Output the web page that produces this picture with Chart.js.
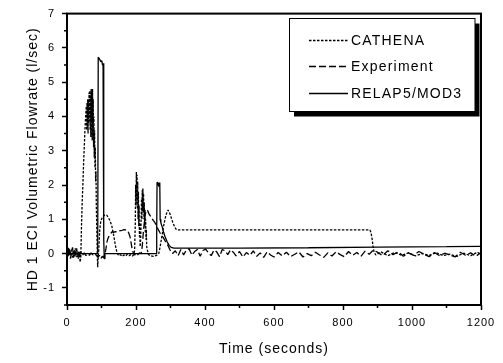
<!DOCTYPE html>
<html><head><meta charset="utf-8">
<script src="https://cdn.jsdelivr.net/npm/chart.js@4.4.1/dist/chart.umd.min.js"></script>
<style>html,body{margin:0;padding:0;background:#fff;overflow:hidden}canvas{display:block}</style>
</head><body><canvas id="c" width="503" height="363"></canvas>
<script>
// ---------- data ----------
const seriesNames = ['CATHENA', 'Experiment', 'RELAP5/MOD3'];

const catTime = [0,3,6,9,12,15,18,21,24,27,30,33,36,38,40,42,44,46,48,50,
  52,54,56,57,58,59,60,61,62,63,64,65,66,67,68,69,70,71,72,73,
  74,75,76,77,78,79,80,81,82,83,84,85,86,87,88,89,90,92,95,98,
  102,106,110,115,120,125,130,135,140,145,150,155,160,165,170,175,180,185,190,194,
  196,198,199,200,201,202,203,204,205,206,207,208,209,210,211,212,213,214,215,216,
  217,218,219,220,221,222,223,224,225,226,227,228,229,230,231,233,236,240,250,260,
  266,270,275,280,285,290,293,297,302,307,312,317,320,400,500,600,700,800,878,881,
  884,886,888,890,895,910,930,950,970,990,1010,1030,1050,1070,1090,1110,1130,1150,1170,1190,
  1200];
const catFlow = [0.1,-0.1,0.15,-0.05,0.12,-0.12,0.08,-0.08,0.15,-0.1,0.05,-0.15,0.05,-0.25,-0.1,0.8,1.5,2.0,2.6,3.1,
  3.6,4.0,4.3,3.6,4.4,3.7,4.5,3.5,4.5,3.8,4.7,4.0,4.75,3.6,4.6,3.4,4.8,3.9,4.7,3.3,
  4.8,3.8,4.5,3.1,4.0,2.8,3.6,2.5,3.1,2.1,2.4,1.4,0.9,0.4,-0.1,-0.4,-0.2,0.1,0.7,0.95,
  1.05,1.1,1.13,1.12,1.05,0.95,0.8,0.55,0.25,0.02,-0.06,-0.03,-0.08,-0.04,-0.07,-0.02,-0.06,-0.03,-0.07,-0.02,
  0.1,0.9,2.0,1.4,2.38,1.6,2.3,1.3,2.1,1.0,1.8,0.8,1.4,0.5,0.9,0.2,0.3,0.6,1.1,1.6,
  1.0,1.85,1.3,1.9,1.2,1.75,1.0,1.5,0.8,1.3,0.6,1.0,0.4,0.7,0.2,0.1,-0.02,-0.06,-0.08,-0.05,
  0.0,0.2,0.5,0.8,1.05,1.22,1.27,1.2,1.05,0.9,0.78,0.7,0.69,0.69,0.69,0.69,0.69,0.69,0.69,0.62,
  0.45,0.3,0.15,0.05,-0.04,0.05,-0.06,0.03,-0.05,0.02,-0.07,0.0,-0.05,0.03,-0.06,-0.02,-0.08,0.01,-0.06,0.04,
  -0.03];

const expTime = [0,2,4,6,8,10,13,16,19,22,25,28,31,34,37,40,45,50,55,60,
  65,70,75,80,85,90,94,98,102,106,110,113,116,119,122,125,128,131,135,140,
  145,150,155,160,165,170,175,179,183,186,189,192,196,200,205,210,215,218,222,226,
  230,234,238,245,250,255,260,265,270,275,280,285,290,294,298,302,
  306,314,322,330,338,346,354,362,370,378,386,394,402,410,418,426,434,442,450,458,
  466,474,482,490,500,510,520,530,540,550,560,570,580,590,600,612,624,636,648,660,
  672,684,696,708,720,732,744,756,768,780,792,804,816,828,840,852,864,876,888,900,
  915,930,945,960,975,990,1005,1020,1035,1050,1065,1080,1095,1110,1125,1140,1155,1170,1185,1200];
const expFlow = [0.15,-0.1,0.2,-0.05,0.1,-0.15,0.05,0.18,-0.12,0.1,-0.05,0.15,-0.1,0.08,-0.05,0.05,-0.05,0.02,-0.06,0.0,
  -0.05,0.02,-0.04,0.0,-0.05,-0.1,-0.05,-0.15,-0.08,-0.12,0.0,0.15,0.35,0.45,0.52,0.56,0.6,0.64,0.62,0.64,
  0.63,0.66,0.67,0.68,0.7,0.69,0.68,0.6,0.48,0.3,0.12,0.02,-0.05,0.03,-0.04,0.02,0.0,0.2,0.7,1.1,
  1.27,1.25,1.15,1.05,0.97,0.9,0.8,0.69,0.6,0.52,0.45,0.36,0.27,0.21,0.12,0.05,
  0.0,0.08,-0.06,0.12,-0.04,0.1,0.14,-0.05,0.06,0.12,-0.08,0.09,0.13,0.02,-0.06,0.1,0.05,-0.09,0.12,0.08,
  -0.03,0.11,0.04,-0.07,0.06,-0.1,0.03,-0.05,0.08,-0.08,0.02,-0.11,0.05,-0.04,-0.1,0.03,-0.07,0.04,-0.09,-0.02,
  0.05,-0.1,0.0,-0.06,0.04,-0.04,-0.11,0.02,-0.07,0.05,-0.03,-0.09,0.06,-0.05,0.03,-0.08,0.07,-0.02,0.1,0.04,
  -0.06,0.08,-0.03,0.05,-0.08,0.02,-0.05,0.06,-0.02,-0.09,0.03,-0.06,0.01,-0.04,-0.1,0.04,-0.05,0.02,-0.08,0.03];

const relTime = [0,89,90.5,94,98,101,103,104.5,106,107,108,110,258,260,261,264,266,267.5,269,270,
  272,276,280,284,290,296,302,310,500,700,900,1100,1200];
const relFlow = [0,0,5.73,5.68,5.6,5.62,5.5,5.55,5.5,0.4,-0.15,0,0,0.6,2.08,2.05,1.95,2.07,2.0,1.0,
  0.9,0.78,0.62,0.5,0.35,0.24,0.18,0.16,0.16,0.17,0.19,0.2,0.21];

const xTicks = [0,200,400,600,800,1000,1200];
const xMinor = [100,300,500,700,900,1100];
const yTicks = [-1,0,1,2,3,4,5,6,7];
const yMinor = [-1.5,-0.5,0.5,1.5,2.5,3.5,4.5,5.5,6.5];

// ---------- chart ----------
const FONT = "'Liberation Sans', Arial, Helvetica, sans-serif";
const pairs = (t, v) => t.map((x, i) => ({x: x, y: v[i]})).filter(p => p.y !== undefined);
const dashes = [[2.5, 1.5], [7, 3], []];
const flows = [[catTime, catFlow], [expTime, expFlow], [relTime, relFlow]];

const framePlugin = {
  id: 'frame',
  beforeDraw(chart) { chart.ctx.letterSpacing = '1px'; },
  afterDraw(chart) {
    const {ctx, chartArea: a, scales} = chart;
    ctx.save();
    ctx.strokeStyle = '#000';
    // minor ticks
    ctx.lineWidth = 1.5;
    ctx.beginPath();
    xMinor.forEach(v => { const px = scales.x.getPixelForValue(v); ctx.moveTo(px, a.bottom); ctx.lineTo(px, a.bottom + 3); });
    yMinor.forEach(v => { const py = scales.y.getPixelForValue(v); ctx.moveTo(a.left, py); ctx.lineTo(a.left - 3, py); });
    ctx.stroke();
    // frame
    ctx.lineWidth = 2;
    ctx.strokeRect(a.left, a.top, a.right - a.left, a.bottom - a.top);
    // legend box with shadow
    const bx = 289.5, by = 18.5, bw = 185.5, bh = 93;
    ctx.fillStyle = '#000';
    ctx.fillRect(bx + 4.5, by + 5, bw, bh);
    ctx.fillStyle = '#fff';
    ctx.fillRect(bx, by, bw, bh);
    ctx.lineWidth = 1;
    ctx.strokeRect(bx, by, bw, bh);
    const rows = [40.5, 66.5, 93.5];
    chart.data.datasets.forEach((ds, i) => {
      ctx.lineWidth = 1.4;
      ctx.setLineDash(ds.borderDash || []);
      ctx.beginPath();
      ctx.moveTo(309, rows[i]); ctx.lineTo(348, rows[i]);
      ctx.stroke();
      ctx.setLineDash([]);
      ctx.fillStyle = '#000';
      ctx.font = '14px ' + FONT;
      ctx.letterSpacing = '1.2px';
      ctx.textAlign = 'left';
      ctx.textBaseline = 'middle';
      ctx.fillText(ds.label, 351, rows[i] + 0.5);
    });
    ctx.restore();
  }
};

new Chart(document.getElementById('c'), {
  type: 'line',
  data: {
    datasets: seriesNames.map((name, i) => ({
      label: name,
      data: pairs(flows[i][0], flows[i][1]),
      borderColor: '#000',
      borderWidth: 1.3,
      borderDash: dashes[i],
      borderJoinStyle: 'bevel',
      pointRadius: 0,
      fill: false,
      tension: 0
    }))
  },
  options: {
    responsive: false,
    animation: false,
    layout: {padding: {top: 12, right: 22, left: 0, bottom: 0}},
    plugins: {legend: {display: false}, tooltip: {enabled: false}},
    scales: {
      x: {
        type: 'linear', min: 0, max: 1200,
        afterBuildTicks: s => { s.ticks = xTicks.map(v => ({value: v})); },
        afterFit: s => { s.height = 58; },
        grid: {drawOnChartArea: false, drawTicks: true, tickLength: 5, tickColor: '#000', tickWidth: 1.5},
        border: {display: false},
        ticks: {color: '#000', font: {family: FONT, size: 11}, padding: 6, maxRotation: 0, autoSkip: false,
                callback: v => String(v)},
        title: {display: true, text: 'Time (seconds)', color: '#000', font: {family: FONT, size: 14}, padding: {top: 0, bottom: 5.6}}
      },
      y: {
        type: 'linear', min: -1.5, max: 7,
        afterBuildTicks: s => { s.ticks = yTicks.map(v => ({value: v})); },
        afterFit: s => { s.width = 67; },
        grid: {drawOnChartArea: false, drawTicks: true, tickLength: 5, tickColor: '#000', tickWidth: 1.5},
        border: {display: false},
        ticks: {color: '#000', font: {family: FONT, size: 11}, padding: 7, callback: v => String(v)},
        title: {display: true, text: 'HD 1 ECI Volumetric Flowrate (l/sec)', color: '#000', font: {family: FONT, size: 14}, padding: {top: 24.6, bottom: 0}}
      }
    }
  },
  plugins: [framePlugin]
});
</script></body></html>
